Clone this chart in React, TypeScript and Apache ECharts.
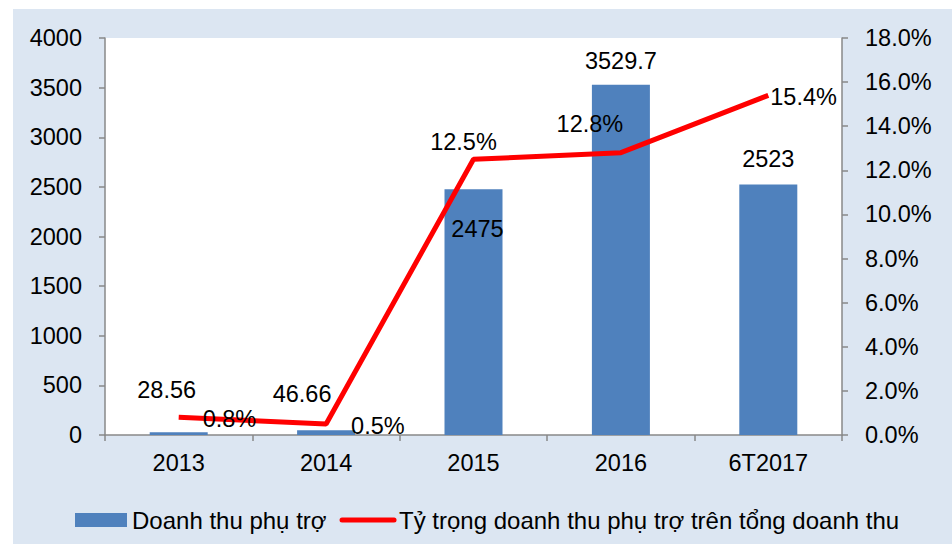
import React, { useEffect, useRef } from "react";
import * as echarts from "echarts";

const categories = ["2013", "2014", "2015", "2016", "6T2017"];
const revenue = [28.56, 46.66, 2475, 3529.7, 2523];
const share = [0.8, 0.5, 12.5, 12.8, 15.4];
const barName = "Doanh thu phụ trợ";
const lineName = "Tỷ trọng doanh thu phụ trợ trên tổng doanh thu";

const FONT = "Arial, 'Liberation Sans', sans-serif";
const AXIS_COLOR = "#898989";
const FS = 23.5;

export default function App() {
  const ref = useRef<HTMLDivElement>(null);
  useEffect(() => {
    if (!ref.current) return;
    const chart = echarts.init(ref.current, undefined, { renderer: "svg" });
    const barLabelOffsets = [
      [-12, -25],
      [-24, -19],
      [4, 57],
      [0, -7],
      [0, -9],
    ];
    const lineLabelCfg = [
      { position: "right", offset: [19, 2] },
      { position: "right", offset: [20, 2] },
      { position: "top", offset: [-10, 0] },
      { position: "top", offset: [-31, -12] },
      { position: "right", offset: [-3, 2] },
    ];
    const option: any = {
      animation: false,
      textStyle: { fontFamily: FONT },
      grid: {
        left: 92,
        right: 110,
        top: 29,
        bottom: 109,
        show: true,
        backgroundColor: "#ffffff",
        borderWidth: 0,
      },
      legend: {
        left: 57,
        top: 494,
        itemWidth: 52,
        itemHeight: 14,
        itemGap: 13,
        textStyle: { fontSize: 24, color: "#000", fontFamily: FONT },
        data: [
          { name: barName, icon: "rect" },
          {
            name: lineName,
            itemStyle: { opacity: 0 },
            lineStyle: { width: 5, color: "#ff0000", cap: "round" },
          },
        ],
      },
      xAxis: {
        type: "category",
        data: categories,
        boundaryGap: true,
        axisLine: { show: true, lineStyle: { color: AXIS_COLOR, width: 1.5 } },
        axisTick: { show: true, length: 6, lineStyle: { color: AXIS_COLOR, width: 1.5 } },
        axisLabel: { fontSize: FS, color: "#000", margin: 16, fontFamily: FONT },
        splitLine: { show: false },
      },
      yAxis: [
        {
          type: "value",
          min: 0,
          max: 4000,
          interval: 500,
          position: "left",
          axisLine: { show: true, lineStyle: { color: AXIS_COLOR, width: 1.5 } },
          axisTick: { show: true, length: 6, lineStyle: { color: AXIS_COLOR, width: 1.5 } },
          axisLabel: {
            fontSize: FS,
            color: "#000",
            margin: 23,
            fontFamily: FONT,
            formatter: (v: number) => String(v),
          },
          splitLine: { show: false },
        },
        {
          type: "value",
          min: 0,
          max: 18,
          interval: 2,
          position: "right",
          axisLine: { show: true, lineStyle: { color: AXIS_COLOR, width: 1.5 } },
          axisTick: { show: true, length: 6, lineStyle: { color: AXIS_COLOR, width: 1.5 } },
          axisLabel: {
            fontSize: FS,
            color: "#000",
            margin: 23,
            fontFamily: FONT,
            formatter: (v: number) => v.toFixed(1) + "%",
          },
          splitLine: { show: false },
        },
      ],
      series: [
        {
          name: barName,
          type: "bar",
          yAxisIndex: 0,
          barWidth: 58,
          itemStyle: { color: "#4f81bd" },
          data: revenue.map((v, i) => ({
            value: v,
            label: {
              show: true,
              position: "top",
              offset: barLabelOffsets[i],
              fontSize: FS,
              color: "#000",
              fontFamily: FONT,
              formatter: String(v),
            },
          })),
        },
        {
          name: lineName,
          type: "line",
          yAxisIndex: 1,
          symbol: "circle",
          symbolSize: 0.01,
          showSymbol: true,
          lineStyle: { color: "#ff0000", width: 5 },
          itemStyle: { color: "#ff0000" },
          z: 3,
          label: { show: true },
          data: share.map((v, i) => ({
            value: v,
            label: {
              show: true,
              position: lineLabelCfg[i].position,
              offset: lineLabelCfg[i].offset,
              fontSize: FS,
              color: "#000",
              fontFamily: FONT,
              formatter: v.toFixed(1) + "%",
            },
          })),
        },
      ],
    };
    chart.setOption(option);
    return () => chart.dispose();
  }, []);

  return (
    <div style={{ position: "fixed", left: 0, top: 0, width: 952, height: 544, background: "#ffffff" }}>
      <div
        style={{ position: "absolute", left: 13, top: 9, width: 939, height: 535, background: "#dce6f2" }}
      >
        <div ref={ref} style={{ width: 939, height: 535 }} />
      </div>
    </div>
  );
}
